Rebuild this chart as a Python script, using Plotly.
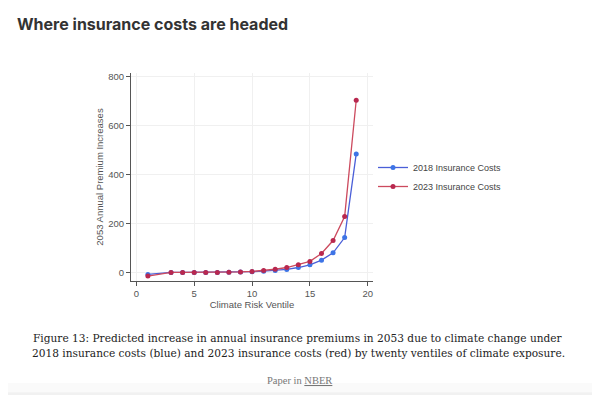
import plotly.graph_objects as go

ventiles = [1, 3, 4, 5, 6, 7, 8, 9, 10, 11, 12, 13, 14, 15, 16, 17, 18, 19]
costs_2018 = [-8, 0, 0, 0, 0, 0, 1, 2, 3, 5, 8, 12, 20, 31, 50, 80, 142, 483]
costs_2023 = [-15, 0, 0, 0, 0, 0, 1, 2, 4, 8, 13, 20, 31, 45, 77, 130, 228, 702]
x_ticks = [0, 5, 10, 15, 20]
y_ticks = [0, 200, 400, 600, 800]

caption_lines = [
    "Figure 13: Predicted increase in annual insurance premiums in 2053 due to climate change under",
    "2018 insurance costs (blue) and 2023 insurance costs (red) by twenty ventiles of climate exposure.",
]

blue = "#3d74e6"
red = "#b8284f"

fig = go.Figure()
fig.add_trace(go.Scatter(x=ventiles, y=costs_2018, mode="lines+markers",
                         name="2018 Insurance Costs",
                         line=dict(color="#4a5fd8", width=1.3),
                         marker=dict(color=blue, size=5)))
fig.add_trace(go.Scatter(x=ventiles, y=costs_2023, mode="lines+markers",
                         name="2023 Insurance Costs",
                         line=dict(color="#cc4a5e", width=1.3),
                         marker=dict(color=red, size=5)))

axis_font = dict(family="Liberation Sans, Arial, sans-serif", size=9.5, color="#555")
cap_font = dict(family="DejaVu Serif, Liberation Serif, serif", size=10.6, color="#222")
fig.update_layout(
    width=592, height=387,
    margin=dict(l=123, r=227, t=65, b=114, autoexpand=False),
    paper_bgcolor="white", plot_bgcolor="white",
    showlegend=True,
    legend=dict(x=1.0, y=0.5, xanchor="left", yanchor="middle",
                font=dict(family="Liberation Sans, Arial, sans-serif", size=9, color="#444"),
                itemwidth=30, tracegroupgap=0, bgcolor="rgba(0,0,0,0)"),
    xaxis=dict(range=[-0.46, 20.45], tickvals=x_ticks, ticks="outside", ticklen=4,
               tickcolor="#555", showline=True, linecolor="#555", linewidth=1,
               showgrid=True, gridcolor="#f0f0f0", zeroline=False, automargin=False,
               tickfont=axis_font,
               title=dict(text="Climate Risk Ventile", font=axis_font, standoff=0)),
    yaxis=dict(range=[-35, 813], tickvals=y_ticks, ticks="outside", ticklen=4,
               tickcolor="#555", showline=True, linecolor="#555", linewidth=1,
               showgrid=True, gridcolor="#f0f0f0", zeroline=False, automargin=False,
               tickfont=axis_font,
               title=dict(text="2053 Annual Premium Increases", font=axis_font, standoff=2)),
    shapes=[
        dict(type="rect", xref="paper", yref="paper", x0=-0.6, x1=1.95,
             y0=-0.535, y1=-0.49, fillcolor="#fafafa", line_width=0, layer="below"),
        dict(type="rect", xref="paper", yref="paper", x0=-0.6, x1=1.95,
             y0=-0.6, y1=-0.535, fillcolor="#f1f1f1", line_width=0, layer="below"),
    ],
    annotations=[
        dict(text="<b>Where insurance costs are headed</b>", xref="paper", yref="paper",
             x=-0.479, y=1.236, xanchor="left", yanchor="middle", showarrow=False,
             font=dict(family="Inter, Roboto, sans-serif", size=16, color="#333")),
        dict(text=caption_lines[0], xref="paper", yref="paper", x=0.692, y=-0.276,
             xanchor="center", yanchor="middle", showarrow=False, font=cap_font),
        dict(text=caption_lines[1], xref="paper", yref="paper", x=0.692, y=-0.348,
             xanchor="center", yanchor="middle", showarrow=False, font=cap_font),
        dict(text="Paper in <u>NBER</u>", xref="paper", yref="paper", x=0.698, y=-0.478,
             xanchor="center", yanchor="middle", showarrow=False,
             font=dict(family="Liberation Serif, serif", size=10.5, color="#777")),
    ],
)

fig.write_html("out.html")
